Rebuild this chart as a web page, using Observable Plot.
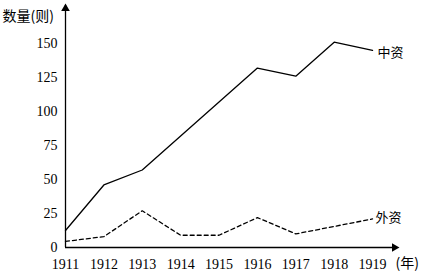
<!DOCTYPE html>
<html>
<head>
<meta charset="utf-8">
<script src="https://cdn.jsdelivr.net/npm/d3@7"></script>
<script src="https://cdn.jsdelivr.net/npm/@observablehq/plot@0.6"></script>
<style>
  html, body { margin: 0; padding: 0; background: #fff; }
  svg { display: block; }
</style>
</head>
<body>
<div id="chart"></div>
<script>
const years = [1911, 1912, 1913, 1914, 1915, 1916, 1917, 1918, 1919];
const domestic = [12.5, 46, 57, 82, 107, 132, 126, 151, 145]; // 中资
const foreign = [4.5, 8, 27, 9, 9, 22, 10, 15.5, 21];        // 外资
const yTicks = [0, 25, 50, 75, 100, 125, 150];
const seriesNames = ["中资", "外资"];
const yAxisTitle = "数量(则)";
const xAxisTitle = "(年)";
const xMax = 1919.65;
const yMax = 178;

const dom = years.map((y, i) => ({year: y, value: domestic[i]}));
const frn = years.map((y, i) => ({year: y, value: foreign[i]}));
const last = years.length - 1;

const font = "'Liberation Serif', serif";
const cjk = "'Noto Sans CJK SC', sans-serif";

const chart = Plot.plot({
  width: 423,
  height: 276,
  marginLeft: 65,
  marginRight: 26,
  marginTop: 5,
  marginBottom: 29,
  style: {fontFamily: font, fontSize: "14px", color: "#000", background: "#fff"},
  x: {domain: [1911, xMax]},
  y: {domain: [0, yMax]},
  marks: [
    Plot.axisX(years, {tickSize: 0, tickPadding: 12, tickFormat: d => String(d), label: null, fontSize: 14, fontFamily: font}),
    Plot.axisY(yTicks, {tickSize: 0, tickPadding: 8, label: null, fontSize: 14, fontFamily: font}),
    Plot.ruleY([0], {stroke: "#000", strokeWidth: 1.3}),
    Plot.ruleX([1911], {stroke: "#000", strokeWidth: 1.3}),
    Plot.dot([{x: 1911, y: yMax}], {x: "x", y: "y", symbol: "triangle", r: 3.2, fill: "#000", stroke: null, dy: 3}),
    Plot.dot([{x: xMax, y: 0}], {x: "x", y: "y", symbol: "triangle", r: 3.2, fill: "#000", stroke: null, rotate: 90, dx: -3}),
    Plot.line(dom, {x: "year", y: "value", stroke: "#000", strokeWidth: 1.3}),
    Plot.line(frn, {x: "year", y: "value", stroke: "#000", strokeWidth: 1.3, strokeDasharray: "4,3"}),
    Plot.text([dom[last]], {x: "year", y: "value", text: () => seriesNames[0], textAnchor: "start", dx: 5, dy: 2, fontFamily: cjk, fontSize: 13, fill: "#000"}),
    Plot.text([frn[last]], {x: "year", y: "value", text: () => seriesNames[1], textAnchor: "start", dx: 3, dy: -1, fontFamily: cjk, fontSize: 13, fill: "#000"}),
    Plot.text([yAxisTitle], {frameAnchor: "top-left", dx: -63, dy: 6, textAnchor: "start", fontFamily: cjk, fontSize: 14, fill: "#000"}),
    Plot.text([xAxisTitle], {frameAnchor: "bottom-right", dx: -2, dy: 20, textAnchor: "start", fontFamily: cjk, fontSize: 14, fill: "#000"})
  ]
});
document.getElementById("chart").appendChild(chart);
</script>
</body>
</html>
